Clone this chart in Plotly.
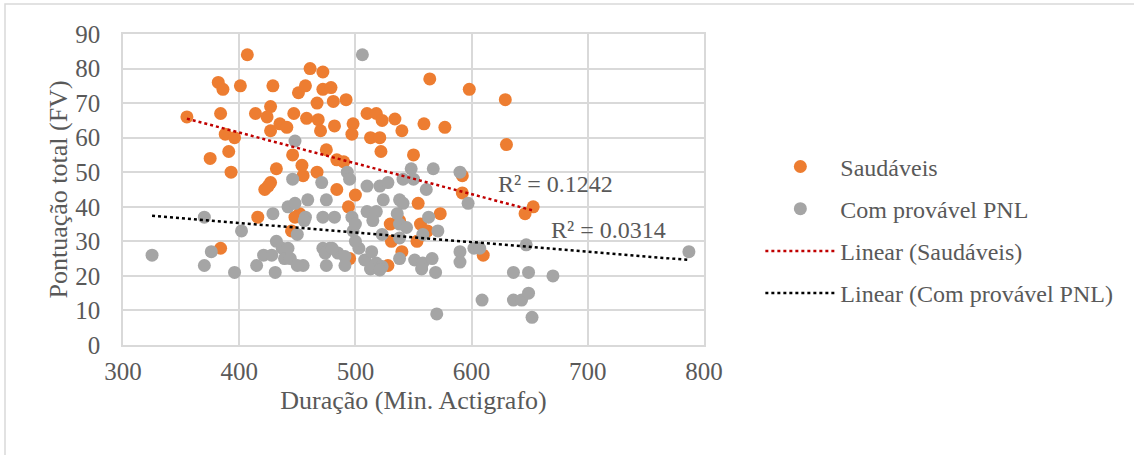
import plotly.graph_objects as go

# ---- data ----
saud_x = [355, 382, 386, 401, 407, 384, 414, 427, 424, 447, 427, 435, 441, 388, 396, 391, 375, 446, 393,
          432, 427, 422, 429, 451, 461, 472, 457, 472, 479, 467, 481, 492, 458, 468, 482, 470, 498, 497,
          510, 518, 523, 534, 540, 513, 521, 559, 577, 564, 598, 629, 630, 522, 550, 454, 475, 484, 490,
          467, 455, 592, 592, 484, 500, 494, 554, 573, 556, 530, 531, 553, 452, 448, 445, 416, 384, 425,
          495, 528, 540, 610, 646, 653, 538, 562]
saud_y = [66, 76, 74, 75, 84, 67, 67, 69, 66, 67, 62, 64, 63, 61, 60, 56, 54, 55, 50,
          51, 47, 45, 75, 73, 80, 79, 75, 74, 74.5, 70, 70.5, 71, 65.6, 65.2, 63.4, 62, 64, 61,
          67, 67, 65, 65.4, 62, 60, 60, 64, 63, 77, 74, 71, 58, 56, 55, 52, 56.5, 53.6, 53,
          50, 49, 49, 44, 45, 43.4, 40, 41, 38, 35, 35, 30, 30, 38, 37, 33, 37, 28, 46,
          25, 23, 27, 26, 38, 40, 36, 33]

pnl_x = [506, 448, 446, 471, 493, 495, 548, 567, 590, 510, 521, 528, 541, 550, 561, 597, 459, 475,
         524, 538, 541, 563, 571, 457, 472, 482, 497, 510, 518, 515, 536, 538, 544, 498, 523, 538,
         558, 472, 478, 474, 485, 491, 475, 491, 455, 503, 508, 514, 518, 523, 513, 521, 538, 551,
         558, 566, 569, 557, 590, 590, 602, 607, 609, 570, 647, 636, 649, 670, 636, 643, 649, 652,
         787, 325, 370, 376, 370, 396, 402, 429, 415, 431, 421, 428, 432, 437, 442, 439, 444, 442,
         448, 450, 450, 456, 500, 500, 480]
pnl_y = [84, 59, 48, 47, 50, 48, 51, 51, 50, 46, 46, 47, 48, 48, 45, 41, 42, 42,
         42, 42, 41, 37, 33, 37, 37, 37, 37, 38.6, 38.6, 36, 38, 35, 34, 33, 32, 31,
         32, 28, 28, 26.6, 26.6, 25.6, 23, 23, 23, 28, 24.6, 27, 23.7, 22.7, 22, 21.7, 25, 24.6,
         23.7, 25, 21, 22, 27, 24, 28, 28, 13, 9, 29, 21, 21, 20, 13, 13, 15, 8,
         27, 26, 37, 27, 23, 21, 33, 38, 23, 21, 26, 26, 30, 28, 28, 25, 25, 40,
         41, 32, 23, 36, 30, 35, 28]

# trendlines (x range, slope, intercept)
trend_saud_x = [355, 652]
trend_saud_coef = (-0.0892, 97.17)
trend_pnl_x = [325, 787]
trend_pnl_coef = (-0.0277, 46.4)

x_ticks = [300, 400, 500, 600, 700, 800]
y_ticks = [0, 10, 20, 30, 40, 50, 60, 70, 80, 90]

# ---- figure ----
FONT = "Liberation Serif, Times New Roman, serif"
TXT = "#595959"

fig = go.Figure()
fig.add_trace(go.Scatter(x=saud_x, y=saud_y, mode="markers", name="Saudáveis",
                         legendgroup="a",
                         marker=dict(color="#ED7D31", size=13, line=dict(width=0))))
fig.add_trace(go.Scatter(x=pnl_x, y=pnl_y, mode="markers", name="Com provável PNL",
                         legendgroup="b",
                         marker=dict(color="#A5A5A5", size=13, line=dict(width=0))))

ty_s = [trend_saud_coef[0] * v + trend_saud_coef[1] for v in trend_saud_x]
ty_p = [trend_pnl_coef[0] * v + trend_pnl_coef[1] for v in trend_pnl_x]
fig.add_trace(go.Scatter(x=trend_saud_x, y=ty_s, mode="lines", name="Linear (Saudáveis)",
                         legendgroup="c",
                         line=dict(color="#C00000", width=2.5, dash="dot")))
fig.add_trace(go.Scatter(x=trend_pnl_x, y=ty_p, mode="lines", name="Linear (Com provável PNL)",
                         legendgroup="d",
                         line=dict(color="#000000", width=2.5, dash="dot")))

fig.add_annotation(x=672, y=46.6, xref="x", yref="y", text="R² = 0.1242", showarrow=False,
                   font=dict(family=FONT, size=24, color=TXT))
fig.add_annotation(x=718, y=33.3, xref="x", yref="y", text="R² = 0.0314", showarrow=False,
                   font=dict(family=FONT, size=24, color=TXT))

# outer chart border
fig.add_shape(type="rect", xref="paper", yref="paper",
              x0=(5 - 123) / 581, x1=(1145 - 123) / 581,
              y0=(345 - 465) / 311, y1=(345 - 4) / 311,
              line=dict(color="#D9D9D9", width=1.5), fillcolor="rgba(0,0,0,0)", layer="below")

fig.update_layout(
    width=1134, height=455,
    margin=dict(l=123, r=430, t=34, b=110),
    paper_bgcolor="white", plot_bgcolor="white",
    font=dict(family=FONT, size=24, color=TXT),
    showlegend=True,
    legend=dict(x=1.097, y=0.645, xanchor="left", yanchor="top",
                font=dict(family=FONT, size=24, color=TXT),
                traceorder="grouped", tracegroupgap=8, itemwidth=70,
                bgcolor="rgba(0,0,0,0)"),
    xaxis=dict(range=[300, 800], tickvals=x_ticks, showgrid=True, gridcolor="#D9D9D9",
               gridwidth=1.5, zeroline=False, showline=True, linecolor="#D9D9D9", linewidth=1.5,
               mirror=True, ticks="", ticklabelstandoff=3,
               title=dict(text="Duração (Min. Actigrafo)", standoff=7,
                          font=dict(family=FONT, size=26, color=TXT)),
               tickfont=dict(family=FONT, size=25, color=TXT)),
    yaxis=dict(range=[0, 90], tickvals=y_ticks, showgrid=True, gridcolor="#D9D9D9",
               gridwidth=1.5, zeroline=False, showline=True, linecolor="#D9D9D9", linewidth=1.5,
               mirror=True, ticks="", ticklabelstandoff=16,
               title=dict(text="Pontuação total (FV)", standoff=0,
                          font=dict(family=FONT, size=26, color=TXT)),
               tickfont=dict(family=FONT, size=25, color=TXT)),
)

fig.write_html("out.html")
